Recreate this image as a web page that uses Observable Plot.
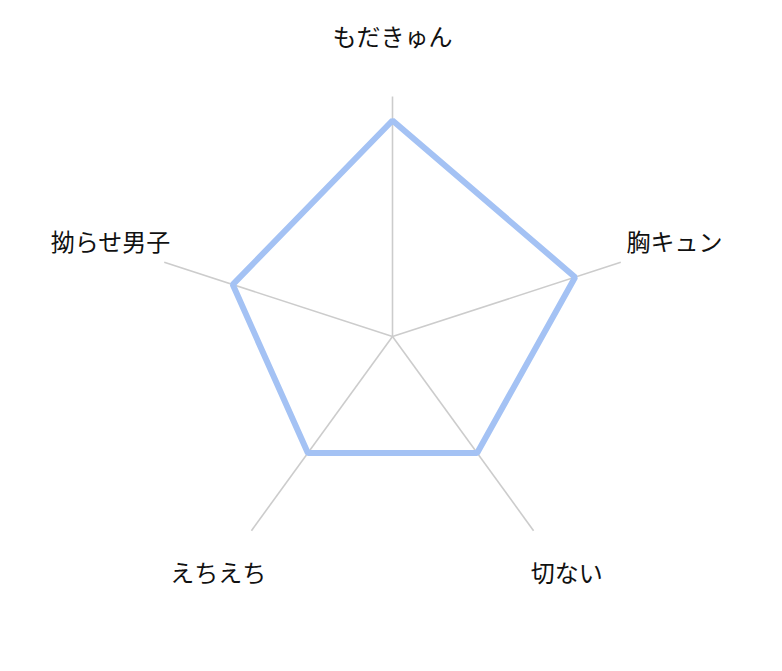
<!DOCTYPE html>
<html>
<head>
<meta charset="utf-8">
<script src="https://cdn.jsdelivr.net/npm/d3@7"></script>
<script src="https://cdn.jsdelivr.net/npm/@observablehq/plot@0.6"></script>
<style>
  html, body { margin: 0; padding: 0; background: #fff; }
  svg { display: block; }
</style>
</head>
<body>
<div id="chart"></div>
<script>
const categories = ["もだきゅん", "胸キュン", "切ない", "えちえち", "拗らせ男子"];
const values = [0.9, 0.8, 0.6, 0.6, 0.7];
const maxValue = 1;
const labelRadius = 1.235;

const n = categories.length;
const angle = i => (2 * Math.PI * i) / n;
const px = (i, r) => r * Math.sin(angle(i));
const py = (i, r) => r * Math.cos(angle(i));

const axes = categories.map((c, i) => ({c, x1: 0, y1: 0, x2: px(i, maxValue), y2: py(i, maxValue)}));
const poly = values.map((v, i) => ({c: categories[i], x: px(i, v), y: py(i, v)}));
const labels = categories.map((c, i) => ({c, x: px(i, labelRadius), y: py(i, labelRadius)}));

const W = 782, H = 671, cx = 392, cy = 336, R = 240;

const chart = Plot.plot({
  width: W,
  height: H,
  margin: 0,
  x: {type: "linear", domain: [-cx / R, (W - cx) / R], range: [0, W], axis: null},
  y: {type: "linear", domain: [cy / R, -(H - cy) / R], range: [0, H], axis: null},
  style: {fontFamily: "'Noto Sans CJK JP', 'Noto Sans', sans-serif", background: "#fff"},
  marks: [
    Plot.link(axes, {x1: "x1", y1: "y1", x2: "x2", y2: "y2", stroke: "#cccccc", strokeWidth: 1.6}),
    Plot.line(poly, {x: "x", y: "y", curve: "linear-closed", stroke: "#a4c2f4", strokeWidth: 6, strokeLinejoin: "miter"}),
    Plot.text(labels, {x: "x", y: "y", dy: -2, text: "c", fontSize: 24, fill: "#111", textAnchor: "middle"})
  ]
});
document.getElementById("chart").appendChild(chart);
</script>
</body>
</html>
